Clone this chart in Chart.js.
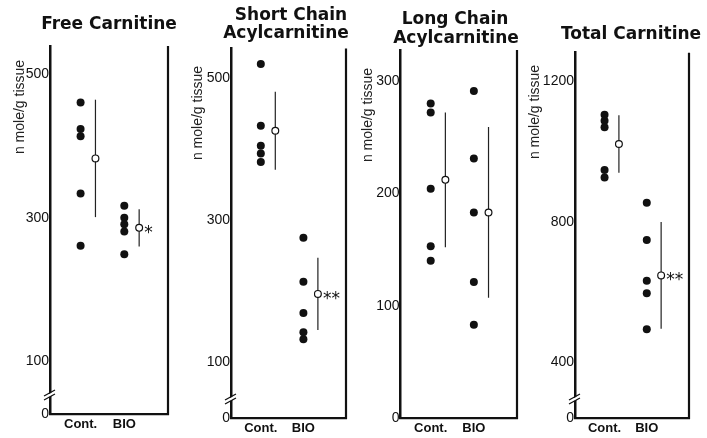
<!DOCTYPE html>
<html><head><meta charset="utf-8">
<script src="https://cdn.jsdelivr.net/npm/chart.js@4.4.1/dist/chart.umd.min.js"></script>
<style>
html,body{margin:0;padding:0;background:#fff;width:707px;height:438px;overflow:hidden;}
.panel{position:absolute;top:0;height:438px;}
canvas{display:block;}
</style></head><body>
<div class="panel" style="left:0px;width:185px"><canvas id="c1" width="185" height="438"></canvas></div>
<div class="panel" style="left:185px;width:172px"><canvas id="c2" width="172" height="438"></canvas></div>
<div class="panel" style="left:357px;width:170px"><canvas id="c3" width="170" height="438"></canvas></div>
<div class="panel" style="left:527px;width:180px"><canvas id="c4" width="180" height="438"></canvas></div>
<script>
// ---------- data ----------
const categories = ['Cont.', 'BIO'];
const yAxisTitle = 'n mole/g tissue';
const breakLabel = '0';

const freeTitle = ['Free Carnitine'];
const freeCont = [461, 424, 414, 334, 261];
const freeBio  = [317, 300, 291, 281, 249];
const freeMean = [383, 286];
const freeSD   = [82, 26];
const freeSig  = ['', '*'];
const freeTicks = [100, 300, 500];

const shortTitle = ['Short Chain', 'Acylcarnitine'];
const shortCont = [520, 433, 405, 394, 382];
const shortBio  = [275, 213, 169, 142, 132];
const shortMean = [426, 196];
const shortSD   = [55, 51];
const shortSig  = ['', '**'];
const shortTicks = [100, 300, 500];

const longTitle = ['Long Chain', 'Acylcarnitine'];
const longCont = [280, 272, 204, 153, 140];
const longBio  = [291, 231, 183, 121, 83];
const longMean = [212, 183];
const longSD   = [60, 76];
const longSig  = ['', ''];
const longTicks = [0, 100, 200, 300];

const totalTitle = ['Total Carnitine'];
const totalCont = [1105, 1088, 1070, 948, 927];
const totalBio  = [855, 749, 633, 597, 495];
const totalMean = [1022, 648];
const totalSD   = [82, 152];
const totalSig  = ['', '**'];
const totalTicks = [400, 800, 1200];

// ---------- styles / layout ----------
const INK = '#111';
const MEAN_OFFSET = 0.34;
const SANS = '"Liberation Sans", Arial, sans-serif';
const Y_W = 40, X_H = 18;

const panels = [
  {id:'c1', left:0, width:185, axisX:50, rightX:168, top:46, bottom:414, yMin:26, yMax:540, broken:true,
   ticks:freeTicks, title:freeTitle, titleX:[109], titleY:[29], yTitleDx:-30, yTitleDy:61,
   cont:freeCont, bio:freeBio, mean:freeMean, sd:freeSD, sig:freeSig},
  {id:'c2', left:185, width:172, axisX:231, rightX:346, top:48.5, bottom:418, yMin:21, yMax:542, broken:true,
   ticks:shortTicks, title:shortTitle, titleX:[291, 286], titleY:[20, 37.5], yTitleDx:-33, yTitleDy:64.5,
   cont:shortCont, bio:shortBio, mean:shortMean, sd:shortSD, sig:shortSig},
  {id:'c3', left:357, width:170, axisX:400.5, rightX:517, top:50, bottom:418, yMin:0, yMax:327.6, broken:false,
   ticks:longTicks, title:longTitle, titleX:[455, 456], titleY:[24, 42.5], yTitleDx:-32, yTitleDy:65,
   cont:longCont, bio:longBio, mean:longMean, sd:longSD, sig:longSig},
  {id:'c4', left:527, width:180, axisX:575, rightX:689, top:52.7, bottom:418, yMin:242, yMax:1282, broken:true,
   ticks:totalTicks, title:totalTitle, titleX:[631], titleY:[39.3], yTitleDx:-40, yTitleDy:59.3,
   cont:totalCont, bio:totalBio, mean:totalMean, sd:totalSD, sig:totalSig}
];

function buildDatasets(p){
  const ds = [];
  ds.push({label:'Mean', data:p.mean.map((m,i)=>({x:i+MEAN_OFFSET, y:m})), showLine:false,
    pointRadius:3.4, pointBackgroundColor:'#fff', pointBorderColor:INK, pointBorderWidth:1.2});
  p.mean.forEach((m,i)=>ds.push({label:'SD '+categories[i],
    data:[{x:i+MEAN_OFFSET, y:m-p.sd[i]},{x:i+MEAN_OFFSET, y:m+p.sd[i]}],
    showLine:true, borderColor:'#222', borderWidth:1.2, pointRadius:0}));
  [p.cont, p.bio].forEach((g,i)=>ds.push({label:categories[i], data:g.map(v=>({x:i, y:v})), showLine:false,
    pointRadius:4, pointBackgroundColor:INK, pointBorderColor:INK, pointBorderWidth:0}));
  return ds;
}

function makeDecor(p){
  return {id:'decor', afterDraw(chart){
    const ctx = chart.ctx, a = chart.chartArea, xs = chart.scales.x, ys = chart.scales.y;
    ctx.save();
    ctx.strokeStyle = INK; ctx.lineWidth = 2.2;
    ctx.beginPath(); ctx.moveTo(a.right, a.top); ctx.lineTo(a.right, a.bottom + 1); ctx.stroke();
    if (p.broken){
      const bx = a.left, by = a.bottom - 20;
      ctx.fillStyle = '#fff';
      ctx.beginPath(); ctx.moveTo(bx-3, by+1); ctx.lineTo(bx+3, by-2); ctx.lineTo(bx+3, by+1); ctx.lineTo(bx-3, by+4); ctx.closePath(); ctx.fill();
      ctx.lineWidth = 1.3; ctx.strokeStyle = INK;
      ctx.beginPath();
      ctx.moveTo(bx-6, by+2); ctx.lineTo(bx+5, by-4);
      ctx.moveTo(bx-6, by+6); ctx.lineTo(bx+5, by);
      ctx.stroke();
    }
    ctx.fillStyle = INK;
    ctx.font = '17px "DejaVu Sans", sans-serif'; ctx.textAlign = 'left'; ctx.textBaseline = 'alphabetic';
    p.sig.forEach((s,i)=>{ if(!s) return;
      ctx.fillText(s, xs.getPixelForValue(i+MEAN_OFFSET)+5, ys.getPixelForValue(p.mean[i])+10); });
    ctx.font = 'bold 17px "DejaVu Sans", sans-serif'; ctx.textAlign = 'center';
    p.title.forEach((t,k)=>ctx.fillText(t, p.titleX[k]-p.left, p.titleY[k]));
    ctx.translate(a.left + p.yTitleDx, a.top + p.yTitleDy); ctx.rotate(-Math.PI/2);
    ctx.font = '14px ' + SANS; ctx.textAlign = 'center'; ctx.textBaseline = 'middle';
    ctx.fillStyle = '#222';
    ctx.fillText(yAxisTitle, 0, 0);
    ctx.restore();
  }};
}

panels.forEach(p=>{
  const padLeft = (p.axisX - p.left) - Y_W;
  const padRight = p.width - (p.rightX - p.left);
  const padBottom = 438 - p.bottom - X_H;
  new Chart(document.getElementById(p.id), {
    type:'scatter',
    data:{datasets:buildDatasets(p)},
    options:{
      responsive:false, animation:false, devicePixelRatio:1,
      layout:{padding:{left:padLeft, right:padRight, top:p.top, bottom:padBottom}},
      plugins:{legend:{display:false}, tooltip:{enabled:false}, title:{display:false}},
      scales:{
        x:{type:'linear', min:-0.7, max:2.0,
          afterBuildTicks:s=>{ s.ticks = categories.map((c,i)=>({value:i})); },
          afterFit:s=>{ s.height = X_H; },
          grid:{display:false, drawTicks:false},
          border:{display:true, color:INK, width:2.2},
          ticks:{autoSkip:false, maxRotation:0, padding:3, color:INK,
            font:{family:SANS, size:13, weight:'bold'},
            callback:v=>categories[v]}},
        y:{type:'linear', min:p.yMin, max:p.yMax,
          afterBuildTicks:s=>{ s.ticks = (p.broken ? [p.yMin] : []).concat(p.ticks).map(v=>({value:v})); },
          afterFit:s=>{ s.width = Y_W; },
          grid:{display:false, drawTicks:false},
          border:{display:true, color:INK, width:2.5},
          ticks:{autoSkip:false, padding:1, color:INK, font:{family:SANS, size:14},
            callback:v=>(p.broken && v===p.yMin) ? breakLabel : String(v)}}
      }
    },
    plugins:[makeDecor(p)]
  });
});
</script>
</body></html>
